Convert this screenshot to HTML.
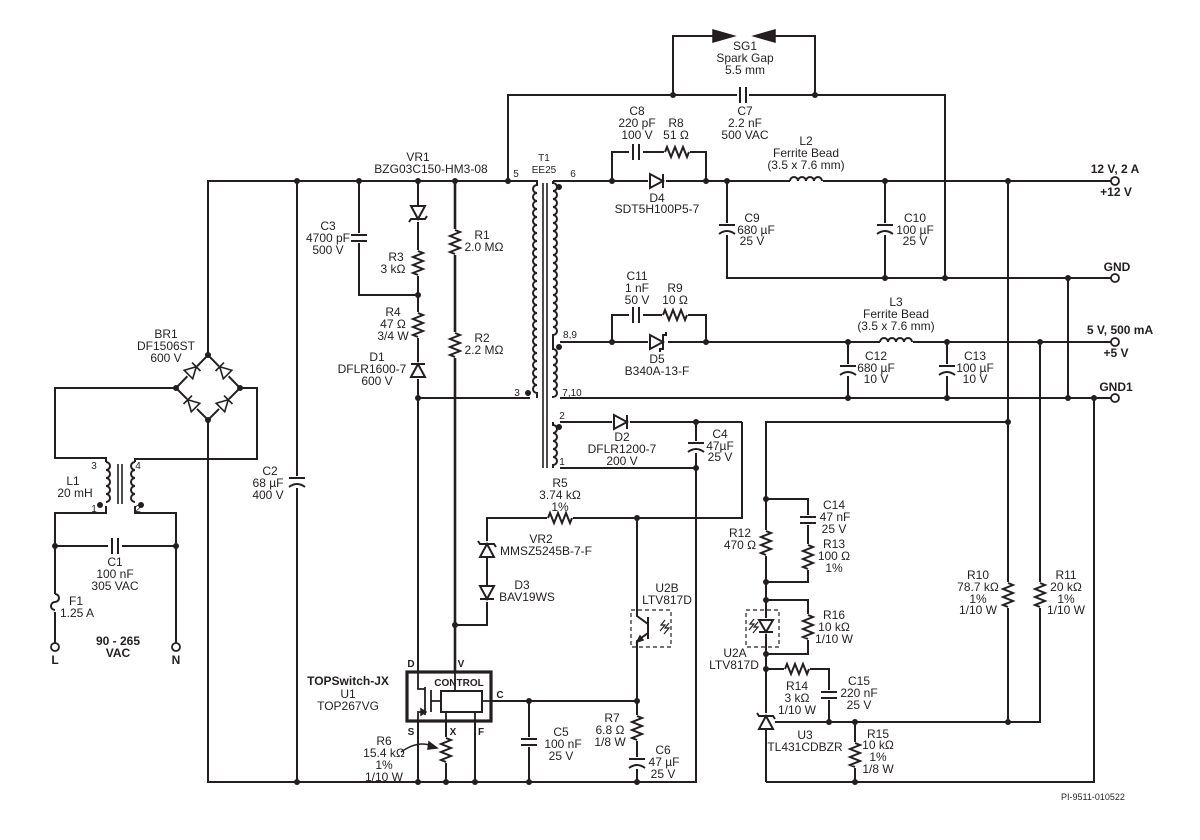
<!DOCTYPE html>
<html><head><meta charset="utf-8"><style>
html,body{margin:0;padding:0;background:#fff;}
svg{display:block;}
.w{stroke:#231f20;stroke-width:2;fill:none;stroke-linejoin:miter;}
.t{stroke:#231f20;stroke-width:2.6;fill:none;}
.k{fill:#fff;stroke:none;}
.f{fill:#231f20;stroke:#231f20;stroke-width:1.5;}
.o{fill:#fff;stroke:#231f20;stroke-width:1.8;}
.d{stroke:#231f20;stroke-width:1.2;fill:none;stroke-dasharray:4,3;}
text{font-family:"Liberation Sans","DejaVu Sans",sans-serif;font-size:12px;fill:#231f20;text-anchor:middle;}
.b{font-weight:bold;}
.s{font-size:11px;}
</style></head><body>
<svg width="1200" height="840" viewBox="0 0 1200 840" xmlns="http://www.w3.org/2000/svg">
<!-- ===== WIRES ===== -->
<g class="w">
<!-- spark gap -->
<path d="M673,95 V36 H718 M815,95 V36 H770"/>
<path d="M508,181 V95 H945 V278"/>
<!-- main bus -->
<path d="M208,355 V181 H537 V185"/>
<path d="M208,420 V782 H696 V468"/>
<!-- bridge loop -->
<path d="M176,388 H55 V458 H106 V462"/>
<path d="M240,388 H257 V459 H135 V462"/>
<path d="M106,502 V513 H55 V643"/>
<path d="M135,502 V513 H176 V643"/>
<path d="M55,546 H176"/>
<!-- C2 -->
<path d="M297,181 V782"/>
<!-- C3 -->
<path d="M359,181 V295 H418"/>
<!-- VR1 column -->
<path d="M418,181 V672 M418,721 V782"/>
<path d="M418,398 H537 V393"/>
<!-- R1 R2 -->
<path d="M455,181 V672"/>
<path d="M455,625 H487 V518 H742 V422"/>
<!-- secondary -->
<path d="M553,181 H1111"/>
<path d="M553,342 H1111"/>
<path d="M553,398 H1111"/>
<path d="M553,422 H742"/>
<path d="M553,468 H696"/>
<path d="M612,181 V152 H706 V181"/>
<path d="M612,342 V315 H706 V342"/>
<path d="M727,181 V278 H1111"/>
<path d="M885,181 V278"/>
<path d="M1068,278 V398"/>
<path d="M848,342 V398 M947,342 V398"/>
<path d="M1008,181 V722 M1040,342 V722 H766"/>
<!-- aux / bias -->
<path d="M696,422 V468"/>
<!-- control -->
<path d="M637,518 V782"/>
<path d="M491,701 H637"/>
<path d="M529,701 V782"/>
<path d="M446,712 V782 M475,712 V782"/>
<!-- feedback -->
<path d="M766,782 V422 H1008"/>
<path d="M766,499 H808 V582 H766"/>
<path d="M766,600 H808 V654 H766"/>
<path d="M766,669 H829 V722"/>
<path d="M855,722 V782"/>
<path d="M766,782 H1094 V398"/>
</g>
<path class="t" d="M455,181 V672"/>

<!-- ===== COIL / TRANSFORMER ===== -->
<g class="w">
<rect class="k" x="530" y="183" width="30" height="290"/>
<path d="M508,181 H537 V185 a4,4 0 0 0 0,8 a4,4 0 0 0 0,8 a4,4 0 0 0 0,8 a4,4 0 0 0 0,8 a4,4 0 0 0 0,8 a4,4 0 0 0 0,8 a4,4 0 0 0 0,8 a4,4 0 0 0 0,8 a4,4 0 0 0 0,8 a4,4 0 0 0 0,8 a4,4 0 0 0 0,8 a4,4 0 0 0 0,8 a4,4 0 0 0 0,8 a4,4 0 0 0 0,8 a4,4 0 0 0 0,8 a4,4 0 0 0 0,8 a4,4 0 0 0 0,8 a4,4 0 0 0 0,8 a4,4 0 0 0 0,8 a4,4 0 0 0 0,8 a4,4 0 0 0 0,8 a4,4 0 0 0 0,8 a4,4 0 0 0 0,8 a4,4 0 0 0 0,8 a4,4 0 0 0 0,8 a4,4 0 0 0 0,8 V398"/>
<path d="M553,181 V183 a4,4 0 0 1 0,8 a4,4 0 0 1 0,8 a4,4 0 0 1 0,8 a4,4 0 0 1 0,8 a4,4 0 0 1 0,8 a4,4 0 0 1 0,8 a4,4 0 0 1 0,8 a4,4 0 0 1 0,8 a4,4 0 0 1 0,8 a4,4 0 0 1 0,8 a4,4 0 0 1 0,8 a4,4 0 0 1 0,8 a4,4 0 0 1 0,8 a4,4 0 0 1 0,8 a4,4 0 0 1 0,8 a4,4 0 0 1 0,8 a4,4 0 0 1 0,8 a4,4 0 0 1 0,8 a4,4 0 0 1 0,8 V349 a4,4 0 0 1 0,8 a4,4 0 0 1 0,8 a4,4 0 0 1 0,8 a4,4 0 0 1 0,8 a4,4 0 0 1 0,8 a4,4 0 0 1 0,8 V398"/>
<path d="M553,422 V425 a4,4 0 0 1 0,8 a4,4 0 0 1 0,8 a4,4 0 0 1 0,8 a4,4 0 0 1 0,8 a4,4 0 0 1 0,8 V468"/>
<path d="M543,183 V468 M547,183 V468" style="stroke-width:1.6"/>
<!-- L1 choke -->
<rect class="k" x="100" y="462" width="42" height="44"/>
<path d="M106,462 a4,4 0 0 1 0,8 a4,4 0 0 1 0,8 a4,4 0 0 1 0,8 a4,4 0 0 1 0,8 a4,4 0 0 1 0,8"/>
<path d="M135,462 a4,4 0 0 0 0,8 a4,4 0 0 0 0,8 a4,4 0 0 0 0,8 a4,4 0 0 0 0,8 a4,4 0 0 0 0,8"/>
<path d="M118,464 V504 M122,464 V504" style="stroke-width:1.6"/>
<!-- L2, L3 -->
<rect class="k" x="790" y="175" width="33" height="10"/>
<path d="M790,181 a4,4 0 0 1 8,0 a4,4 0 0 1 8,0 a4,4 0 0 1 8,0 a4,4 0 0 1 8,0"/>
<rect class="k" x="880" y="336" width="33" height="10"/>
<path d="M880,342 a4,4 0 0 1 8,0 a4,4 0 0 1 8,0 a4,4 0 0 1 8,0 a4,4 0 0 1 8,0"/>
<!-- F1 -->
<rect class="k" x="50" y="594" width="10" height="18"/>
<path d="M55,594 a4,4 0 0 1 0,8 a4,4 0 0 0 0,8"/>
</g>

<!-- ===== RESISTORS ===== -->
<g class="w">
<!-- vertical -->
<g><rect class="k" x="410" y="250" width="16" height="26"/><path d="M418,251 l5,2 l-10,4 l10,4 l-10,4 l10,4 l-10,4 l5,2"/></g>
<g><rect class="k" x="410" y="312" width="16" height="26"/><path d="M418,313 l5,2 l-10,4 l10,4 l-10,4 l10,4 l-10,4 l5,2"/></g>
<g><rect class="k" x="447" y="229" width="16" height="26"/><path d="M455,230 l5,2 l-10,4 l10,4 l-10,4 l10,4 l-10,4 l5,2"/></g>
<g><rect class="k" x="447" y="332" width="16" height="26"/><path d="M455,333 l5,2 l-10,4 l10,4 l-10,4 l10,4 l-10,4 l5,2"/></g>
<g><rect class="k" x="438" y="737" width="16" height="26"/><path d="M446,738 l5,2 l-10,4 l10,4 l-10,4 l10,4 l-10,4 l5,2"/></g>
<g><rect class="k" x="629" y="715" width="16" height="26"/><path d="M637,716 l5,2 l-10,4 l10,4 l-10,4 l10,4 l-10,4 l5,2"/></g>
<g><rect class="k" x="758" y="530" width="16" height="26"/><path d="M766,531 l5,2 l-10,4 l10,4 l-10,4 l10,4 l-10,4 l5,2"/></g>
<g><rect class="k" x="800" y="544" width="16" height="26"/><path d="M808,545 l5,2 l-10,4 l10,4 l-10,4 l10,4 l-10,4 l5,2"/></g>
<g><rect class="k" x="800" y="614" width="16" height="26"/><path d="M808,615 l5,2 l-10,4 l10,4 l-10,4 l10,4 l-10,4 l5,2"/></g>
<g><rect class="k" x="847" y="742" width="16" height="26"/><path d="M855,743 l5,2 l-10,4 l10,4 l-10,4 l10,4 l-10,4 l5,2"/></g>
<g><rect class="k" x="1000" y="582" width="16" height="26"/><path d="M1008,583 l5,2 l-10,4 l10,4 l-10,4 l10,4 l-10,4 l5,2"/></g>
<g><rect class="k" x="1032" y="582" width="16" height="26"/><path d="M1040,583 l5,2 l-10,4 l10,4 l-10,4 l10,4 l-10,4 l5,2"/></g>
<!-- horizontal -->
<g><rect class="k" x="664" y="145" width="26" height="14"/><path d="M665,152 l2,-5 l4,10 l4,-10 l4,10 l4,-10 l4,10 l2,-5"/></g>
<g><rect class="k" x="662" y="308" width="26" height="14"/><path d="M663,315 l2,-5 l4,10 l4,-10 l4,10 l4,-10 l4,10 l2,-5"/></g>
<g><rect class="k" x="547" y="511" width="26" height="14"/><path d="M548,518 l2,-5 l4,10 l4,-10 l4,10 l4,-10 l4,10 l2,-5"/></g>
<g><rect class="k" x="784" y="662" width="26" height="14"/><path d="M785,669 l2,-5 l4,10 l4,-10 l4,10 l4,-10 l4,10 l2,-5"/></g>
</g>
<!-- R6 arrow -->
<path class="w" d="M401,752 Q418,740 432,746" style="stroke-width:1.5"/>
<path class="f" d="M437,748 l-8,-6 l-1,7 z"/>

<!-- ===== CAPACITORS ===== -->
<g class="w">
<!-- horizontal wire caps (vertical plates) -->
<rect class="k" x="737" y="88" width="12" height="14"/><path d="M740,87 V103 M746,87 V103"/>
<rect class="k" x="629" y="144" width="14" height="16"/><path d="M633,144 V160 M639,144 V160"/>
<rect class="k" x="629" y="307" width="14" height="16"/><path d="M633,307 V323 M639,307 V323"/>
<rect class="k" x="108" y="538" width="14" height="16"/><path d="M112,538 V554 M118,538 V554"/>
<!-- vertical wire caps -->
<rect class="k" x="350" y="233" width="20" height="10"/><path d="M351,235 H367 M351,241 H367"/>
<rect class="k" x="520" y="737" width="20" height="10"/><path d="M521,739 H537 M521,745 H537"/>
<rect class="k" x="799" y="515" width="20" height="10"/><path d="M800,517 H816 M800,523 H816"/>
<rect class="k" x="820" y="690" width="20" height="10"/><path d="M821,692 H837 M821,698 H837"/>
<!-- electrolytic -->
<g><rect class="k" x="287" y="476" width="20" height="12"/><path d="M289,478 H305 M289,487 Q297,481 305,487"/></g>
<g><rect class="k" x="717" y="223" width="20" height="12"/><path d="M719,225 H735 M719,234 Q727,228 735,234"/></g>
<g><rect class="k" x="875" y="223" width="20" height="12"/><path d="M877,225 H893 M877,234 Q885,228 893,234"/></g>
<g><rect class="k" x="838" y="364" width="20" height="12"/><path d="M840,366 H856 M840,375 Q848,369 856,375"/></g>
<g><rect class="k" x="937" y="364" width="20" height="12"/><path d="M939,366 H955 M939,375 Q947,369 955,375"/></g>
<g><rect class="k" x="686" y="441" width="20" height="12"/><path d="M688,443 H704 M688,452 Q696,446 704,452"/></g>
<g><rect class="k" x="627" y="757" width="20" height="12"/><path d="M629,759 H645 M629,768 Q637,762 645,768"/></g>
</g>

<!-- ===== DIODES ===== -->
<g class="w">
<!-- VR1 down -->
<rect class="k" x="409" y="205" width="18" height="17"/>
<path d="M411,206 H425 L418,219 Z M409,222 L411,219 H425 L427,216"/>
<!-- D1 up -->
<rect class="k" x="409" y="362" width="18" height="17"/>
<path d="M411,377 H425 L418,364 Z M411,364 H425"/>
<!-- VR2 up -->
<rect class="k" x="478" y="541" width="18" height="17"/>
<path d="M480,557 H494 L487,544 Z M478,541 L480,544 H494 L496,547"/>
<!-- D3 down -->
<rect class="k" x="478" y="585" width="18" height="17"/>
<path d="M480,586 H494 L487,599 Z M480,599 H494"/>
<!-- D4 right -->
<rect class="k" x="648" y="172" width="18" height="18"/>
<path d="M650,174 V188 L663,181 Z M663,174 V188"/>
<!-- D5 schottky right -->
<rect class="k" x="648" y="333" width="20" height="18"/>
<path d="M650,335 V349 L663,342 Z M666,332 L666,335 H663 V349 H660 V352"/>
<!-- D2 right -->
<rect class="k" x="612" y="413" width="18" height="18"/>
<path d="M614,415 V429 L627,422 Z M627,415 V429"/>
<!-- LED U2A down -->
<rect class="k" x="758" y="618" width="16" height="16"/>
<path d="M759,620 H773 L766,632 Z M759,632 H773"/>
<!-- TL431 up -->
<rect class="k" x="757" y="713" width="18" height="17"/>
<path d="M759,729 H773 L766,716 Z M757,713 L759,716 H773 L775,719"/>
</g>
<!-- bridge diodes -->
<g class="w" style="stroke-width:1.6">
<path d="M176,388 L208,355 L240,388 L208,420 Z" style="stroke-width:2"/>
<g transform="translate(192,371) rotate(-45)"><rect class="k" x="-7" y="-7" width="14" height="14"/><path d="M-5,-6 V6 L6,0 Z M6,-6 V6"/></g>
<g transform="translate(224,371) rotate(-135)"><rect class="k" x="-7" y="-7" width="14" height="14"/><path d="M-5,-6 V6 L6,0 Z M6,-6 V6"/></g>
<g transform="translate(192,404) rotate(-135)"><rect class="k" x="-7" y="-7" width="14" height="14"/><path d="M-5,-6 V6 L6,0 Z M6,-6 V6"/></g>
<g transform="translate(224,404) rotate(-45)"><rect class="k" x="-7" y="-7" width="14" height="14"/><path d="M-5,-6 V6 L6,0 Z M6,-6 V6"/></g>
</g>

<!-- spark gap arrows -->
<path class="f" d="M713,30 L734,36 L713,42 Z"/>
<path class="f" d="M775,30 L754,36 L775,42 Z"/>

<!-- ===== U1 ===== -->
<rect x="407" y="672" width="84" height="49" fill="#fff" stroke="#231f20" stroke-width="3.2"/>
<rect x="441" y="691" width="41" height="21" fill="#fff" stroke="#231f20" stroke-width="2"/>
<g class="w" style="stroke-width:1.8">
<path d="M418,672 V689 H425 M425,687 V715 M418,721 V712 H425 M431,690 V712 M431,701 H441"/>
<path d="M455,672 V691 M446,712 V721 M475,712 V721 M482,701 H491"/>
</g>
<path class="f" d="M426,712 l-5,-3 v6 z"/>
<text x="459" y="686" class="b" style="font-size:10px">CONTROL</text>

<!-- U2B transistor -->
<rect class="d" x="631" y="610" width="40" height="37"/>
<g class="w">
<rect class="k" x="632" y="612" width="20" height="33"/>
<path d="M637,612 V616 L648,624 M648,617 V639 M648,633 L637,641 V645"/>
<path d="M665,620 l-4,5 h4 l-5,6 M669,623 l-4,5 h4 l-5,6" style="stroke-width:1.2"/>
</g>
<path class="f" d="M637,642 l3,-6 l3,4 z"/>
<!-- U2A -->
<rect class="d" x="746" y="610" width="33" height="37"/>
<path class="w" d="M754,619 l-4,5 h4 l-5,6 M758,622 l-4,5 h4 l-5,6" style="stroke-width:1.2"/>

<!-- ===== DOTS ===== -->
<g fill="#231f20">
<circle cx="673" cy="95" r="3"/><circle cx="815" cy="95" r="3"/>
<circle cx="297" cy="181" r="3"/><circle cx="359" cy="181" r="3"/><circle cx="418" cy="181" r="3"/><circle cx="455" cy="181" r="3"/><circle cx="508" cy="181" r="3"/>
<circle cx="418" cy="295" r="3"/><circle cx="418" cy="398" r="3"/>
<circle cx="208" cy="355" r="3"/><circle cx="176" cy="388" r="3"/><circle cx="240" cy="388" r="3"/><circle cx="208" cy="420" r="3"/>
<circle cx="55" cy="546" r="3"/><circle cx="176" cy="546" r="3"/>
<circle cx="100" cy="505" r="3"/><circle cx="141" cy="505" r="3"/>
<circle cx="528" cy="393" r="3"/><circle cx="559" cy="187" r="3"/><circle cx="559" cy="347" r="3"/><circle cx="559" cy="427" r="3"/>
<circle cx="612" cy="181" r="3"/><circle cx="706" cy="181" r="3"/><circle cx="727" cy="181" r="3"/><circle cx="885" cy="181" r="3"/><circle cx="1008" cy="181" r="3"/>
<circle cx="885" cy="278" r="3"/><circle cx="945" cy="278" r="3"/><circle cx="1068" cy="278" r="3"/>
<circle cx="612" cy="342" r="3"/><circle cx="706" cy="342" r="3"/><circle cx="848" cy="342" r="3"/><circle cx="947" cy="342" r="3"/><circle cx="1040" cy="342" r="3"/>
<circle cx="848" cy="398" r="3"/><circle cx="947" cy="398" r="3"/><circle cx="1068" cy="398" r="3"/><circle cx="1094" cy="398" r="3"/>
<circle cx="696" cy="422" r="3"/><circle cx="696" cy="468" r="3"/><circle cx="1008" cy="422" r="3"/>
<circle cx="637" cy="518" r="3"/><circle cx="455" cy="625" r="3"/>
<circle cx="529" cy="701" r="3"/><circle cx="637" cy="701" r="3"/>
<circle cx="418" cy="782" r="3"/><circle cx="446" cy="782" r="3"/><circle cx="475" cy="782" r="3"/><circle cx="529" cy="782" r="3"/><circle cx="637" cy="782" r="3"/><circle cx="297" cy="782" r="3"/>
<circle cx="766" cy="499" r="3"/><circle cx="766" cy="582" r="3"/><circle cx="766" cy="600" r="3"/><circle cx="766" cy="654" r="3"/><circle cx="766" cy="669" r="3"/>
<circle cx="829" cy="722" r="3"/><circle cx="855" cy="722" r="3"/><circle cx="1008" cy="722" r="3"/><circle cx="855" cy="782" r="3"/>
</g>
<!-- terminals -->
<g class="o">
<circle cx="1115" cy="181" r="4"/><circle cx="1115" cy="278" r="4"/><circle cx="1115" cy="342" r="4"/><circle cx="1115" cy="398" r="4"/>
<circle cx="55" cy="647" r="4"/><circle cx="176" cy="647" r="4"/>
</g>

<!-- ===== TEXT ===== -->
<text x="745" y="50">SG1</text><text x="745" y="62">Spark Gap</text><text x="745" y="74">5.5 mm</text>
<text x="637" y="115">C8</text><text x="637" y="127">220 pF</text><text x="637" y="139">100 V</text>
<text x="676" y="127">R8</text><text x="676" y="139">51 Ω</text>
<text x="745" y="115">C7</text><text x="745" y="127">2.2 nF</text><text x="745" y="139">500 VAC</text>
<text x="806" y="145">L2</text><text x="806" y="157">Ferrite Bead</text><text x="806" y="169">(3.5 x 7.6 mm)</text>
<text x="418" y="161">VR1</text><text x="431" y="173">BZG03C150-HM3-08</text>
<text x="544" y="161" class="s" style="font-size:10px">T1</text><text x="544" y="173" style="font-size:10px">EE25</text>
<text x="516" y="177" style="font-size:10px">5</text><text x="573" y="177" style="font-size:10px">6</text>
<text x="570" y="338" style="font-size:10px">8,9</text><text x="572" y="396" style="font-size:10px">7,10</text>
<text x="517" y="396" style="font-size:10px">3</text><text x="562" y="419" style="font-size:10px">2</text><text x="562" y="465" style="font-size:10px">1</text>
<text x="657" y="202">D4</text><text x="657" y="213">SDT5H100P5-7</text>
<text x="752" y="222">C9</text><text x="756" y="234">680 µF</text><text x="752" y="245">25 V</text>
<text x="915" y="222">C10</text><text x="915" y="234">100 µF</text><text x="915" y="245">25 V</text>
<text x="1115" y="173" class="b" style="text-anchor:middle">12 V, 2 A</text>
<text x="1116" y="196" class="b">+12 V</text>
<text x="1117" y="271" class="b">GND</text>
<text x="1120" y="334" class="b">5 V, 500 mA</text>
<text x="1116" y="357" class="b">+5 V</text>
<text x="1116" y="391" class="b">GND1</text>
<text x="637" y="280">C11</text><text x="637" y="292">1 nF</text><text x="637" y="304">50 V</text>
<text x="675" y="292">R9</text><text x="675" y="304">10 Ω</text>
<text x="657" y="363">D5</text><text x="657" y="375">B340A-13-F</text>
<text x="896" y="306">L3</text><text x="896" y="318">Ferrite Bead</text><text x="896" y="330">(3.5 x 7.6 mm)</text>
<text x="876" y="360">C12</text><text x="876" y="372">680 µF</text><text x="876" y="383">10 V</text>
<text x="975" y="360">C13</text><text x="975" y="372">100 µF</text><text x="975" y="383">10 V</text>
<text x="622" y="441">D2</text><text x="622" y="453">DFLR1200-7</text><text x="622" y="465">200 V</text>
<text x="720" y="438">C4</text><text x="720" y="450">47µF</text><text x="720" y="461">25 V</text>
<text x="328" y="230">C3</text><text x="328" y="242">4700 pF</text><text x="328" y="254">500 V</text>
<text x="396" y="261">R3</text><text x="393" y="273">3 kΩ</text>
<text x="393" y="316">R4</text><text x="393" y="328">47 Ω</text><text x="393" y="340">3/4 W</text>
<text x="377" y="361">D1</text><text x="372" y="373">DFLR1600-7</text><text x="377" y="385">600 V</text>
<text x="482" y="239">R1</text><text x="484" y="251">2.0 MΩ</text>
<text x="482" y="342">R2</text><text x="484" y="354">2.2 MΩ</text>
<text x="166" y="338">BR1</text><text x="166" y="350">DF1506ST</text><text x="166" y="362">600 V</text>
<text x="270" y="475">C2</text><text x="268" y="487">68 µF</text><text x="268" y="499">400 V</text>
<text x="94" y="469" style="font-size:10px">3</text><text x="138" y="469" style="font-size:10px">4</text>
<text x="94" y="512" style="font-size:10px">1</text><text x="138" y="512" style="font-size:10px">2</text>
<text x="73" y="485">L1</text><text x="75" y="497">20 mH</text>
<text x="115" y="566">C1</text><text x="115" y="578">100 nF</text><text x="115" y="590">305 VAC</text>
<text x="76" y="605">F1</text><text x="77" y="617">1.25 A</text>
<text x="118" y="645" class="b">90 - 265</text><text x="118" y="657" class="b">VAC</text>
<text x="55" y="664" class="b">L</text><text x="176" y="664" class="b">N</text>
<text x="560" y="487">R5</text><text x="560" y="499">3.74 kΩ</text><text x="560" y="511">1%</text>
<text x="541" y="543">VR2</text><text x="546" y="555">MMSZ5245B-7-F</text>
<text x="522" y="589">D3</text><text x="527" y="601">BAV19WS</text>
<text x="667" y="592">U2B</text><text x="667" y="604">LTV817D</text>
<text x="411" y="667" class="b" style="font-size:10px">D</text><text x="461" y="667" class="b" style="font-size:10px">V</text>
<text x="500" y="698" class="b" style="font-size:10px">C</text>
<text x="411" y="735" class="b" style="font-size:10px">S</text><text x="453" y="735" class="b" style="font-size:10px">X</text><text x="481" y="735" class="b" style="font-size:10px">F</text>
<text x="348" y="685" class="b">TOPSwitch-JX</text><text x="348" y="698">U1</text><text x="348" y="710">TOP267VG</text>
<text x="384" y="745">R6</text><text x="384" y="757">15.4 kΩ</text><text x="384" y="769">1%</text><text x="384" y="781">1/10 W</text>
<text x="561" y="736">C5</text><text x="563" y="748">100 nF</text><text x="561" y="760">25 V</text>
<text x="612" y="722">R7</text><text x="610" y="734">6.8 Ω</text><text x="610" y="746">1/8 W</text>
<text x="663" y="754">C6</text><text x="664" y="766">47 µF</text><text x="663" y="778">25 V</text>
<text x="834" y="509">C14</text><text x="835" y="521">47 nF</text><text x="834" y="533">25 V</text>
<text x="740" y="537">R12</text><text x="740" y="549">470 Ω</text>
<text x="834" y="548">R13</text><text x="834" y="560">100 Ω</text><text x="834" y="572">1%</text>
<text x="834" y="619">R16</text><text x="834" y="631">10 kΩ</text><text x="834" y="643">1/10 W</text>
<text x="735" y="657">U2A</text><text x="734" y="669">LTV817D</text>
<text x="797" y="690">R14</text><text x="797" y="702">3 kΩ</text><text x="797" y="714">1/10 W</text>
<text x="859" y="685">C15</text><text x="859" y="697">220 nF</text><text x="859" y="709">25 V</text>
<text x="805" y="739">U3</text><text x="805" y="751">TL431CDBZR</text>
<text x="878" y="738">R15</text><text x="878" y="749">10 kΩ</text><text x="878" y="761">1%</text><text x="878" y="773">1/8 W</text>
<text x="978" y="579">R10</text><text x="978" y="591">78.7 kΩ</text><text x="978" y="603">1%</text><text x="978" y="614">1/10 W</text>
<text x="1066" y="579">R11</text><text x="1066" y="591">20 kΩ</text><text x="1066" y="603">1%</text><text x="1066" y="614">1/10 W</text>
<text x="1093" y="800" style="font-size:9px">PI-9511-010522</text>
</svg>
</body></html>
